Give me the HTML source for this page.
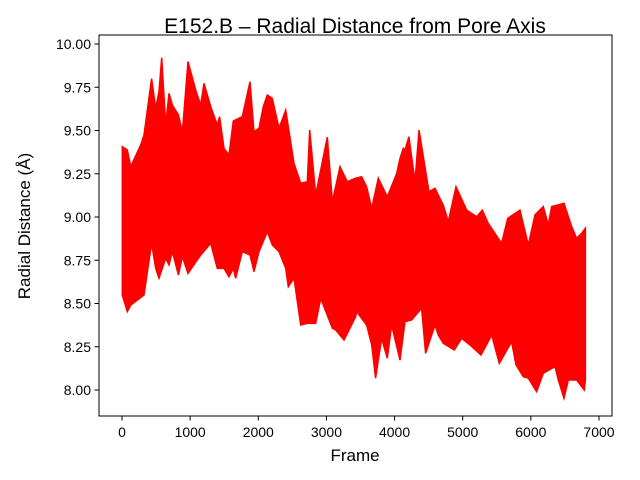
<!DOCTYPE html>
<html><head><meta charset="utf-8"><style>
body{margin:0;background:#fff;}
svg{display:block;font-family:"Liberation Sans","DejaVu Sans",sans-serif;}
</style></head><body>
<svg id="chart" width="640" height="480">
<rect x="0" y="0" width="640" height="480" fill="#fff"/>
<text x="355" y="33" text-anchor="middle" font-size="21">E152.B – Radial Distance from Pore Axis</text>
<g id="plot"></g>
<g id="xticks"></g>
<g id="yticks"></g>
<rect x="99" y="35" width="513" height="381" fill="none" stroke="#000" stroke-width="1"/>
<text x="355" y="461" text-anchor="middle" font-size="17">Frame</text>
<text transform="translate(30,226) rotate(-90)" text-anchor="middle" font-size="17">Radial Distance (Å)</text>
</svg>
<script>
const peakFrames = [5,78,127,274,323,435,494,543,582,641,690,739,827,886,968,1081,1155,1203,1301,1399,1433,1497,1570,1634,1766,1879,1937,2011,2074,2133,2206,2304,2402,2524,2622,2720,2754,2842,3013,3087,3199,3307,3430,3517,3590,3664,3761,3894,4031,4079,4128,4153,4211,4300,4358,4505,4593,4715,4789,4901,5058,5205,5288,5376,5571,5660,5841,5963,6061,6183,6256,6305,6486,6599,6672,6746,6800];
const peakValues = [9.406,9.387,9.291,9.416,9.474,9.80,9.628,9.724,9.921,9.532,9.715,9.647,9.590,9.493,9.898,9.734,9.647,9.773,9.638,9.532,9.580,9.397,9.358,9.555,9.580,9.782,9.493,9.513,9.638,9.705,9.686,9.513,9.618,9.310,9.195,9.204,9.503,9.127,9.461,9.089,9.291,9.204,9.224,9.233,9.175,9.050,9.224,9.117,9.252,9.339,9.397,9.387,9.464,9.204,9.503,9.146,9.166,9.069,8.973,9.175,9.040,9.002,9.040,8.963,8.848,8.992,9.040,8.838,9.012,9.060,8.954,9.060,9.079,8.944,8.877,8.906,8.935];
const troughFrames = [5,78,127,323,435,494,543,641,690,739,827,886,968,1155,1301,1399,1497,1570,1634,1668,1766,1879,1937,2011,2133,2206,2304,2402,2441,2524,2622,2720,2842,2916,3087,3136,3258,3430,3443,3517,3590,3664,3722,3810,3894,3957,4079,4153,4251,4397,4456,4593,4642,4715,4877,4984,5107,5268,5425,5537,5718,5782,5889,5963,6085,6183,6354,6403,6486,6550,6672,6785,6800];
const troughValues = [8.549,8.453,8.491,8.549,8.848,8.703,8.646,8.761,8.723,8.80,8.665,8.771,8.674,8.780,8.848,8.703,8.703,8.655,8.703,8.646,8.80,8.780,8.684,8.80,8.915,8.838,8.80,8.703,8.597,8.646,8.376,8.385,8.385,8.530,8.357,8.347,8.289,8.424,8.453,8.414,8.376,8.260,8.068,8.299,8.183,8.376,8.173,8.395,8.405,8.472,8.212,8.376,8.318,8.270,8.231,8.299,8.260,8.202,8.318,8.154,8.279,8.145,8.077,8.068,7.990,8.096,8.135,8.058,7.952,8.058,8.058,8.000,8.058];
const xTicks = [0,1000,2000,3000,4000,5000,6000,7000];
const yTicks = [8.00,8.25,8.50,8.75,9.00,9.25,9.50,9.75,10.00];

const NS="http://www.w3.org/2000/svg";
const xs = v => 122 + v*(477/7000);
const ys = v => 390 - (v-8)*173;

const plot=document.getElementById('plot');
let pts=[];
peakFrames.forEach((f,i)=>pts.push(xs(f).toFixed(1)+','+ys(peakValues[i]).toFixed(1)));
for(let i=troughFrames.length-1;i>=0;i--) pts.push(xs(troughFrames[i]).toFixed(1)+','+ys(troughValues[i]).toFixed(1));
const poly=document.createElementNS(NS,'polygon');
poly.setAttribute('points',pts.join(' '));
poly.setAttribute('fill','#ff0000');
poly.setAttribute('stroke','#ff0000');
poly.setAttribute('stroke-width','1.5');
poly.setAttribute('stroke-linejoin','miter');


plot.appendChild(poly);

const xg=document.getElementById('xticks');
xTicks.forEach(t=>{
  const l=document.createElementNS(NS,'line');
  l.setAttribute('x1',xs(t));l.setAttribute('x2',xs(t));
  l.setAttribute('y1',416);l.setAttribute('y2',420.5);
  l.setAttribute('stroke','#000');
  
  
  xg.appendChild(l);
  const tx=document.createElementNS(NS,'text');
  tx.setAttribute('x',xs(t));tx.setAttribute('y',437);
  tx.setAttribute('text-anchor','middle');tx.setAttribute('font-size','14');
  tx.textContent=t;
  
  
  xg.appendChild(tx);
});
const yg=document.getElementById('yticks');
yTicks.forEach(t=>{
  const l=document.createElementNS(NS,'line');
  l.setAttribute('x1',94.5);l.setAttribute('x2',99);
  l.setAttribute('y1',ys(t));l.setAttribute('y2',ys(t));
  l.setAttribute('stroke','#000');
  
  
  yg.appendChild(l);
  const tx=document.createElementNS(NS,'text');
  tx.setAttribute('x',91);tx.setAttribute('y',ys(t)+5);
  tx.setAttribute('text-anchor','end');tx.setAttribute('font-size','14');
  tx.textContent=t.toFixed(2);
  
  
  yg.appendChild(tx);
});
</script>
</body></html>
